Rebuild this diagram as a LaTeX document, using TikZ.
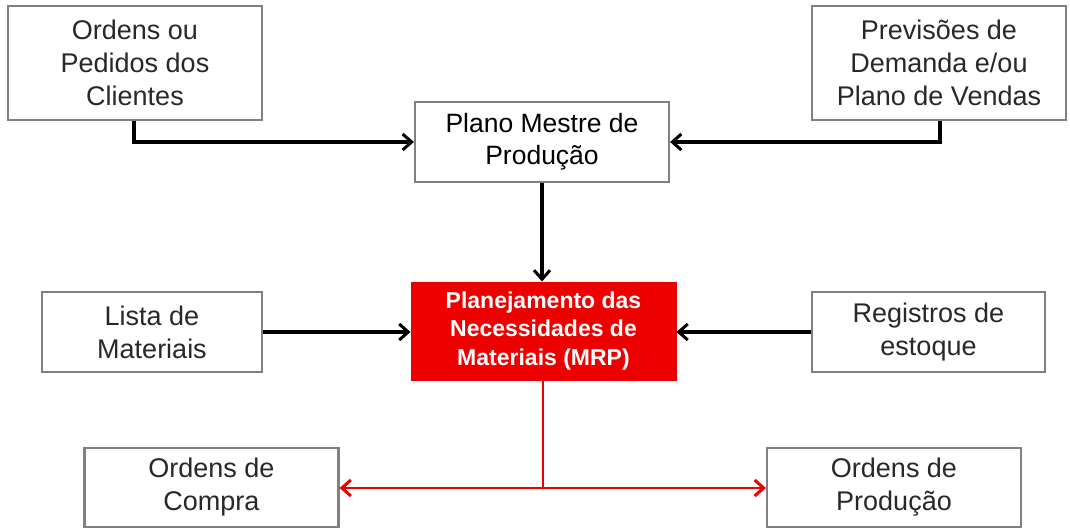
\documentclass[tikz,border=0pt]{standalone}
\usepackage{fontspec}
\setmainfont{Liberation Sans}
\usetikzlibrary{arrows.meta}
\definecolor{boxline}{RGB}{128,128,128}
\definecolor{txt}{RGB}{40,40,40}
\definecolor{mrpred}{RGB}{236,0,0}
\begin{document}
\begin{tikzpicture}[x=1pt,y=-1pt,
  wbox/.style={draw=boxline,line width=2.2pt,fill=white,align=center,inner sep=0pt,
    font=\fontsize{27}{33}\selectfont,text=txt},
  conn/.style={line width=3.2pt,black,-{Straight Barb[length=9pt,width=16pt,line width=3pt]}},
  rconn/.style={line width=2.4pt,mrpred,-{Straight Barb[length=9pt,width=16pt,line width=3pt]}}]
\useasboundingbox (0,0) rectangle (1070,529);
\node[wbox,minimum width=254pt,minimum height=114pt] (cli) at (135,63) {Ordens ou\\Pedidos dos\\Clientes};
\node[wbox,minimum width=254pt,minimum height=114pt] (prev) at (939,63) {Previsões de\\Demanda e/ou\\Plano de Vendas};
\node[wbox,minimum width=254pt,minimum height=80pt,text=black,font=\fontsize{26.5}{32}\selectfont] (pmp) at (542,142) {Plano Mestre de\\Produção};
\node[fill=mrpred,draw=mrpred,line width=1pt,minimum width=265pt,minimum height=98pt,inner sep=0pt,align=center,text=white,font=\bfseries\fontsize{23}{28.5}\selectfont] (mrp) at (543.5,331) {Planejamento das\\Necessidades de\\Materiais (MRP)};
\node[wbox,minimum width=220pt,minimum height=80pt] (lista) at (152,332) {Lista de\\Materiais};
\node[wbox,minimum width=233pt,minimum height=80pt] (reg) at (928.5,332) {Registros de\\estoque};
\node[wbox,minimum width=254pt,minimum height=79pt] (comp) at (211.5,487.5) {Ordens de\\Compra};
\node[wbox,minimum width=254pt,minimum height=79pt] (prod) at (894,487.5) {Ordens de\\Produção};
\draw[conn] (134,0 |- cli.south) |- (pmp.west);
\draw[conn] (940,0 |- prev.south) |- (pmp.east);
\draw[conn] (pmp.south) -- (mrp.north -| pmp.south);
\draw[conn] (lista.east) -- (mrp.west |- lista.east);
\draw[conn] (reg.west) -- (mrp.east |- reg.east);
\coordinate (split) at (543,488);
\draw[line width=2.4pt,mrpred] (mrp.south -| split) -- (split);
\draw[rconn] (split) -- (comp.east |- split);
\draw[rconn] (split) -- (prod.west |- split);
\end{tikzpicture}
\end{document}
